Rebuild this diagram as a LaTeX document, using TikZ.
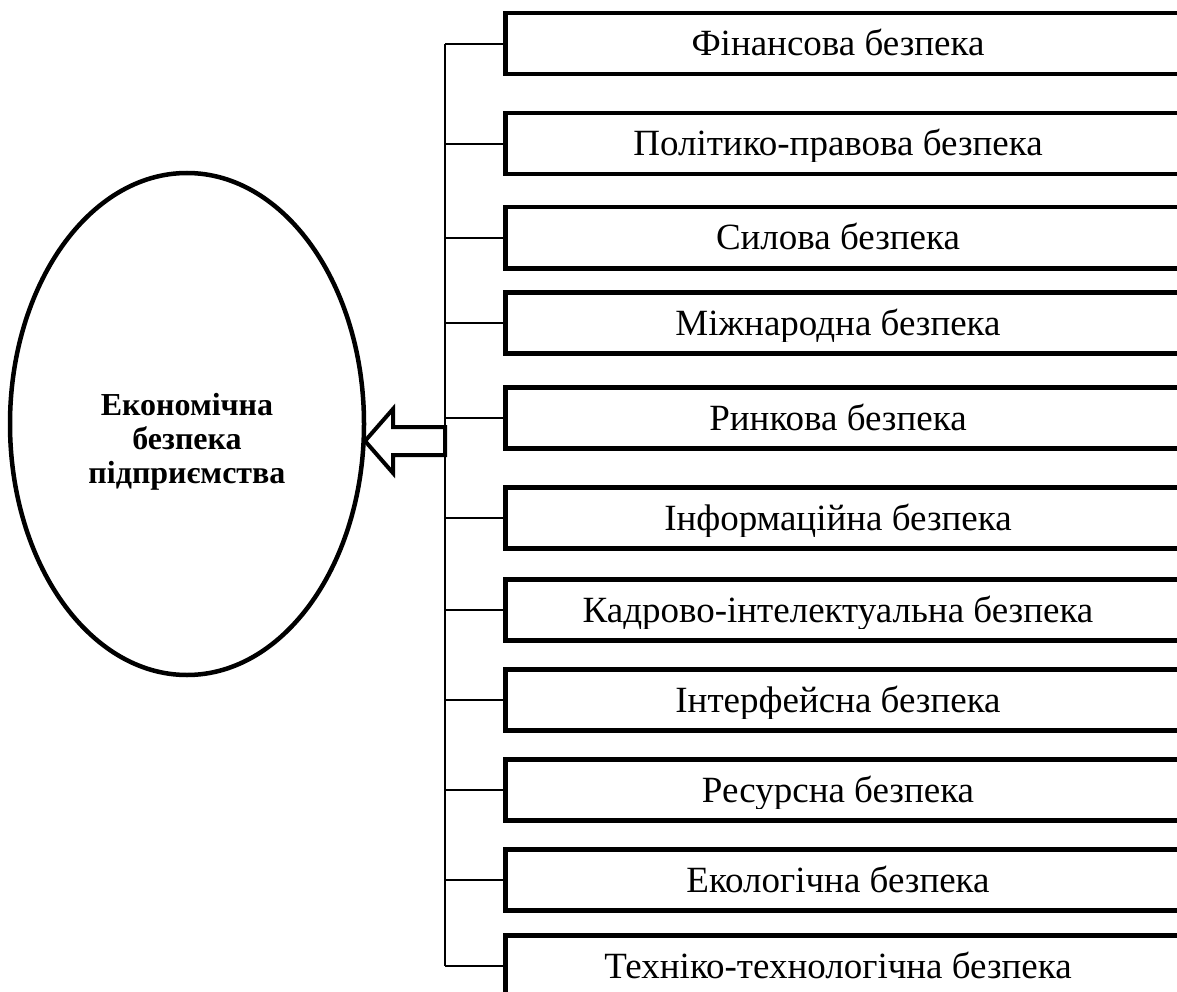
\documentclass[tikz,border=0pt]{standalone}
\usepackage{fontspec}
\setmainfont{Liberation Serif}
\usetikzlibrary{shapes.geometric}
\begin{document}
\begin{tikzpicture}[x=1pt,y=-1pt,
  boxstyle/.style={draw, line width=4.5pt, rectangle, minimum width=680pt, minimum height=61pt, anchor=north west, inner sep=0pt},
  lbl/.style={anchor=base, inner sep=0pt, font=\fontsize{37}{44}\selectfont},
  conn/.style={line width=2pt},
  blockarrow/.style={line width=4pt, fill=white, line join=miter}]
\useasboundingbox (0,0) rectangle (1177,992);
\clip (0,0) rectangle (1177,992);
\fill[white] (0,0) rectangle (1177,992);
\node[draw, ellipse, line width=4.5pt, minimum width=354pt, minimum height=502pt, inner sep=0pt] (E) at (187,424) {};
\node[align=center, inner sep=0pt, font=\bfseries\fontsize{32}{34}\selectfont] (Et) at (187,442) {Економічна\\безпека\\підприємства};
\coordinate (bus) at (445,0);
\foreach \t/\txt [count=\i] in {11/Фінансова безпека, 111/Політико-правова безпека, 205/Силова безпека, 290/Міжнародна безпека, 385/Ринкова безпека, 485/Інформаційна безпека, 577/Кадрово-інтелектуальна безпека, 667/Інтерфейсна безпека, 757/Ресурсна безпека, 847/Екологічна безпека, 933/Техніко-технологічна безпека} {
  \node[boxstyle] (b\i) at (503,\t) {};
  \begin{scope}
    \clip (506,\t+3) rectangle (1177,\t+51);
    \node[lbl] (t\i) at (838,\t+45) {\txt};
  \end{scope}
  \draw[conn] (b\i.west) -- (b\i.west -| bus);
}
\draw[conn] (b1.west -| bus) -- (b11.west -| bus);
\draw[blockarrow] (365,441) -- (393,409) -- (393,427) -- (445,427) -- (445,455) -- (393,455) -- (393,473) -- cycle;
\end{tikzpicture}
\end{document}
